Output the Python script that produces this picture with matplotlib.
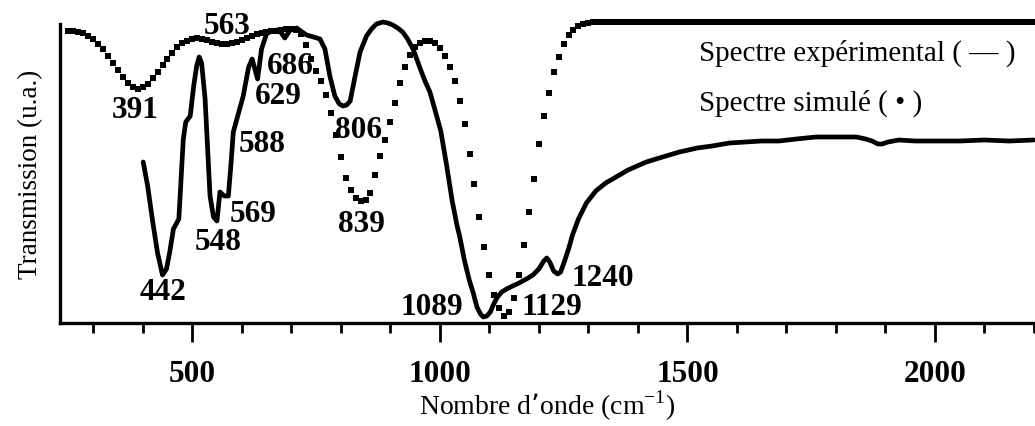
import numpy as np
import matplotlib
matplotlib.use("Agg")
import matplotlib.pyplot as plt

plt.rcParams['font.family'] = ['Liberation Serif', 'DejaVu Serif']

# experimental spectrum (solid line), wavenumber / transmission (a.u.)
exp_x = [401, 410, 420, 430, 440, 448, 455, 462, 473, 482, 487, 496, 503, 509, 514,
         519, 526, 536, 543, 550, 556, 565, 573, 578, 583, 593, 603, 614, 621, 626,
         632, 640, 650, 660, 671, 680, 687, 698, 711, 722, 731, 745, 758, 768, 778,
         788, 797, 805, 812, 819, 829, 839, 852, 862, 872, 885, 895, 905, 915, 925,
         935, 946, 960, 970, 980, 992, 1002, 1014, 1025, 1035, 1040, 1050, 1060, 1067,
         1075, 1082, 1088, 1095, 1102, 1108, 1115, 1125, 1135, 1147, 1160, 1175, 1188,
         1200, 1210, 1216, 1222, 1230, 1238, 1244, 1252, 1260, 1268, 1280, 1296, 1315,
         1335, 1349, 1380, 1417, 1450, 1484, 1520, 1550, 1585, 1618, 1650, 1685, 1720,
         1760, 1800, 1841, 1860, 1873, 1885, 1893, 1905, 1927, 1960, 2008, 2050, 2100,
         2150, 2199]
exp_t = [159, 135, 100, 68, 46, 52, 70, 92, 102, 182, 199, 205, 235, 255, 264,
         258, 222, 125, 104, 100, 129, 125, 125, 155, 189, 207, 225, 254, 262, 253,
         242, 272, 287, 290, 291, 288, 283, 291, 293, 289, 286, 284, 282, 272, 245,
         225, 217, 215, 216, 220, 245, 269, 285, 292, 297, 299, 298, 296, 293, 289,
         282, 272, 253, 240, 229, 208, 190, 155, 120, 95, 85, 60, 40, 29,
         14, 7, 4, 5, 9, 16, 23, 29, 32, 35, 38, 42, 46,
         52, 60, 63, 59, 50, 47, 49, 60, 72, 86, 102, 118, 130,
         138, 142, 151, 159, 164, 169, 173, 175, 178, 179, 180, 180, 182,
         184, 184, 184, 182, 180, 177, 177, 179, 181, 180, 180, 180, 181,
         180, 181]

# simulated spectrum (square dots), one point every 10 cm-1 from 250 to 2200
sim_x = np.arange(250, 2201, 10)
sim_t = [290, 290, 289, 288, 285, 282, 277, 272, 265, 258, 251, 244, 238, 234, 232,
         234, 237, 243, 249, 256, 262, 268, 274, 278, 280, 282, 283, 282, 281, 279,
         278, 277, 277, 278, 279, 281, 283, 285, 287, 288, 289, 290, 290, 291, 292,
         292, 291, 287, 276, 262, 250, 240, 226, 208, 186, 164, 143, 131, 123, 120,
         121, 128, 146, 165, 181, 199, 218, 238, 254, 266, 274, 278, 280, 280, 278,
         273, 265, 254, 240, 220, 197, 167, 137, 104, 74, 46, 26, 13, 5, 9,
         23, 46, 76, 109, 142, 177, 205, 228, 249, 264, 277, 286, 291, 295, 297,
         298, 299, 299, 299, 299, 299, 299, 299, 299, 299, 299, 299, 299, 299, 299,
         299, 299, 299, 299, 299, 299, 299, 299, 299, 299, 299, 299, 299, 299, 299,
         299, 299, 299, 299, 299, 299, 299, 299, 299, 299, 299, 299, 299, 299, 299,
         299, 299, 299, 299, 299, 299, 299, 299, 299, 299, 299, 299, 299, 299, 299,
         299, 299, 299, 299, 299, 299, 299, 299, 299, 299, 299, 299, 299, 299, 299,
         299, 299, 299, 299, 299, 299, 299, 299, 299, 299, 299, 299, 299, 299, 299,
         299]

# band labels: text, x, y
peak_labels = ['391', '563', '686', '629', '588', '569', '548', '442', '806', '839',
               '1089', '1129', '1240']
peak_lx = [385, 570, 698, 673, 641, 623, 553, 442, 835, 842, 984, 1226, 1329]
peak_ly = [212, 295, 255, 225, 177, 107, 79, 29, 192, 97, 14, 14, 44]

fig = plt.figure(figsize=(10.35, 4.27), dpi=100)
ax = fig.add_axes([60 / 1035, (427 - 324) / 427, (1035 - 60) / 1035, (324 - 25) / 427])

ax.plot(sim_x, sim_t[:len(sim_x)], 's', color='black', markersize=4.2,
        markeredgewidth=0, clip_on=False)
ax.plot(exp_x, exp_t, '-', color='black', linewidth=3.4,
        solid_joinstyle='round', solid_capstyle='round', clip_on=False)

for txt, lx, ly in zip(peak_labels, peak_lx, peak_ly):
    ax.text(lx, ly, txt, ha='center', va='center', fontsize=22.5, fontweight='bold')

ax.text(1524, 269, 'Spectre expérimental ( — )', ha='left', va='center', fontsize=21)
ax.text(1524, 219, 'Spectre simulé ( • )', ha='left', va='center', fontsize=21)

ax.set_xlim(233, 2202)
ax.set_ylim(-2, 297)
ax.set_xticks([500, 1000, 1500, 2000])
ax.set_xticks([300, 400, 600, 700, 800, 900, 1100, 1200, 1300, 1400, 1600, 1700,
               1800, 1900, 2100, 2200], minor=True)
ax.set_yticks([])
ax.spines['top'].set_visible(False)
ax.spines['right'].set_visible(False)
ax.spines['left'].set_linewidth(2.4)
ax.spines['bottom'].set_linewidth(2.4)
ax.tick_params(axis='x', which='major', length=14, width=2, pad=12, labelsize=22.5)
ax.tick_params(axis='x', which='minor', length=7, width=2)
for lab in ax.get_xticklabels():
    lab.set_fontweight('bold')

ax.set_xlabel('Nombre d\u2019onde (cm$^{\\mathregular{-1}}$)', fontsize=20, labelpad=0)
ax.set_ylabel('Transmission (u.a.)', fontsize=19.5, labelpad=12)

fig.savefig('out.png', dpi=100)
